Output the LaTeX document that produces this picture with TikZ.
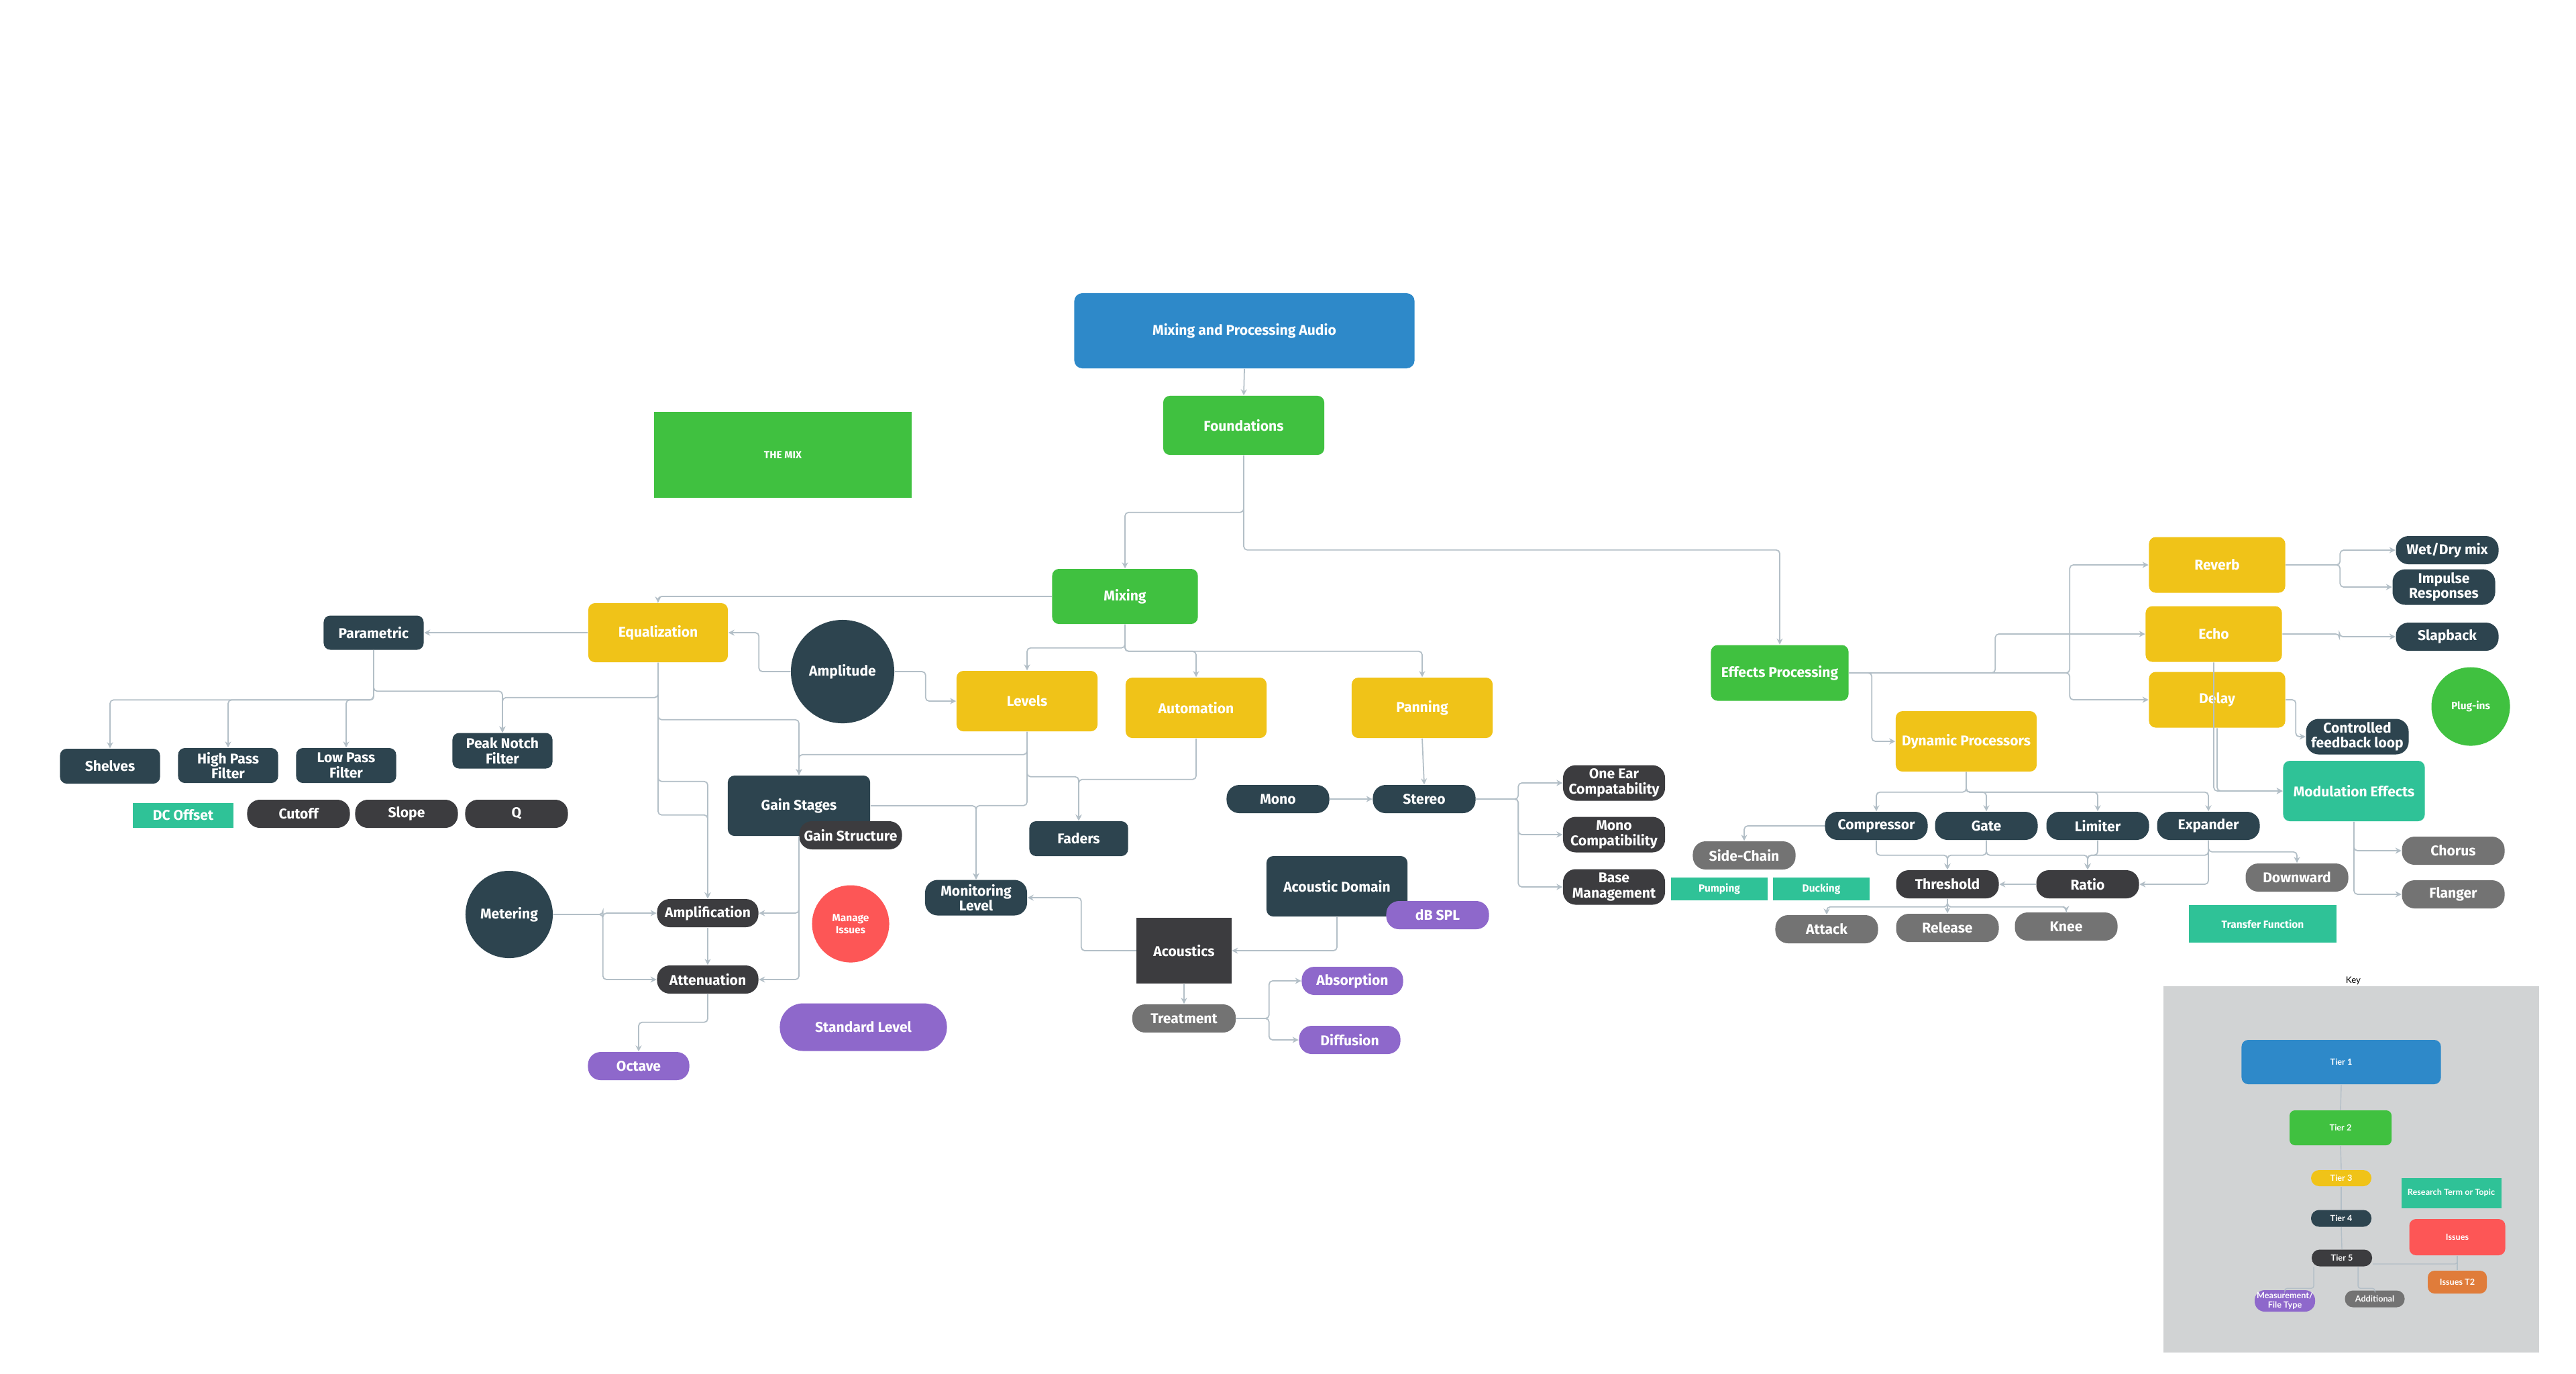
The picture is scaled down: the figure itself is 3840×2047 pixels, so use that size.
\documentclass[tikz,border=0pt]{standalone}
\usepackage{fontspec}
\setmainfont{Fira Sans}
\newfontfamily\keyfont{Lato}
\usepackage{xcolor}
\usetikzlibrary{arrows.meta,calc,positioning}
\definecolor{tierblue}{HTML}{2E89C9}
\definecolor{tiergreen}{HTML}{40C140}
\definecolor{tieryellow}{HTML}{F0C318}
\definecolor{tierslate}{HTML}{2D444F}
\definecolor{tierdark}{HTML}{3C3C3F}
\definecolor{tiergray}{HTML}{737373}
\definecolor{tierpurple}{HTML}{8E68CB}
\definecolor{tierteal}{HTML}{2FC297}
\definecolor{tierred}{HTML}{FD5656}
\definecolor{tierorange}{HTML}{E07C3A}
\definecolor{keygray}{HTML}{D1D3D4}
\definecolor{linkgray}{HTML}{B3BFC7}
\newcommand\mapfont{\fontsize{6}{6.4}\selectfont\bfseries}
\newcommand\smallmapfont{\fontsize{4.4}{5}\selectfont\bfseries}
\newcommand\keytext{\keyfont\fontsize{3.6}{4.1}\selectfont\bfseries}

\begin{document}
\begin{tikzpicture}[x=0.01cm,y=-0.01cm,
	mapnode/.style={rectangle,inner sep=0pt,text=white,font=\mapfont,align=center},
	tierone/.style={mapnode,fill=tierblue,rounded corners=1.2mm,minimum width=5.07cm,minimum height=1.12cm},
	tiertwo/.style={mapnode,fill=tiergreen,rounded corners=1mm,minimum width=2.05cm,minimum height=0.83cm},
	tierthree/.style={mapnode,fill=tieryellow,rounded corners=1mm,minimum width=2.1cm,minimum height=0.9cm},
	tierfour/.style={mapnode,fill=tierslate,rounded corners=1.9mm,minimum width=1.53cm,minimum height=0.42cm},
	tierfourbox/.style={mapnode,fill=tierslate,rounded corners=1mm,minimum width=1.49cm,minimum height=0.52cm},
	tierfive/.style={mapnode,fill=tierdark,rounded corners=1.9mm,minimum width=1.53cm,minimum height=0.42cm},
	extra/.style={tierfive,fill=tiergray},
	measurebox/.style={tierfive,fill=tierpurple},
	researchbox/.style={mapnode,fill=tierteal},
	topiccirc/.style={mapnode,circle,fill=tierslate},
	link/.style={draw=linkgray,line width=0.5pt,rounded corners=1.5pt,-{Stealth[length=0.9mm,width=0.9mm]}},
	keylink/.style={draw=linkgray,line width=0.4pt,rounded corners=1pt},
	keynode/.style={inner sep=0pt,text=white,font=\keytext,align=center}]
	\fill[white] (0,0) rectangle (3840,2047);
	\useasboundingbox (0,0) rectangle (3840,2047);

	\node[tierone] (mpa) at (1855,493) {Mixing and Processing Audio};
	\node[tiertwo,minimum width=2.4cm,minimum height=0.88cm] (found) at (1854,634) {Foundations};
	\node[tiertwo,minimum width=2.17cm,minimum height=0.82cm] (mixing) at (1677,889) {Mixing};
	\node[tiertwo] (effects) at (2653,1003) {Effects Processing};
	\node[mapnode,fill=tiergreen,font=\smallmapfont,minimum width=3.84cm,minimum height=1.27cm] (themix) at (1167,678) {THE MIX};

	\node[tierthree,minimum width=2.08cm,minimum height=0.88cm] (equal) at (981,943) {Equalization};
	\node[tierthree] (levels) at (1531,1045) {Levels};
	\node[tierthree] (autom) at (1783,1055) {Automation};
	\node[tierthree] (pan) at (2120,1055) {Panning};
	\node[tierthree,minimum width=2.03cm,minimum height=0.83cm] (reverb) at (3305,842) {Reverb};
	\node[tierthree,minimum width=2.03cm,minimum height=0.83cm] (echo) at (3300,945) {Echo};
	\node[tierthree,minimum width=2.03cm,minimum height=0.83cm] (delay) at (3305,1043) {Delay};
	\node[tierthree] (dynproc) at (2931,1105) {Dynamic Processors};

	\node[tierfourbox,minimum height=0.51cm] (param) at (557,943) {Parametric};
	\node[topiccirc,minimum size=1.54cm] (ampl) at (1256,1001) {Amplitude};
	\node[tierfourbox] (shelves) at (164,1142) {Shelves};
	\node[tierfourbox] (hpf) at (340,1141) {High Pass\\Filter};
	\node[tierfourbox] (lpf) at (516,1141) {Low Pass\\Filter};
	\node[tierfourbox,minimum height=0.53cm] (peak) at (749,1119) {Peak Notch\\Filter};
	\node[tierfourbox,minimum width=2.12cm,minimum height=0.9cm] (gainst) at (1191,1201) {Gain Stages};
	\node[tierfourbox,minimum width=1.47cm] (faders) at (1608,1250) {Faders};
	\node[tierfour,minimum width=1.52cm,minimum height=0.53cm] (monitor) at (1455,1338) {Monitoring\\Level};
	\node[topiccirc,minimum size=1.3cm] (meter) at (759,1363) {Metering};
	\node[tierfour] (mono) at (1905,1191) {Mono};
	\node[tierfour] (stereo) at (2123,1191) {Stereo};
	\node[tierfourbox,minimum width=2.1cm,minimum height=0.9cm] (acdom) at (1993,1321) {Acoustic Domain};
	\node[tierfour] (wetdry) at (3648,820) {Wet/Dry mix};
	\node[tierfour,minimum height=0.53cm] (impulse) at (3643,875) {Impulse\\Responses};
	\node[tierfour] (slap) at (3648,949) {Slapback};
	\node[tierfour,minimum height=0.53cm] (ctrlfb) at (3514,1098) {Controlled\\feedback loop};
	\node[tierfour] (comp) at (2797,1231) {Compressor};
	\node[tierfour] (gate) at (2961,1231) {Gate};
	\node[tierfour] (lim) at (3127,1231) {Limiter};
	\node[tierfour] (expand) at (3292,1231) {Expander};

	\node[tierfive] (cutoff) at (445,1213) {Cutoff};
	\node[tierfive] (slope) at (606,1213) {Slope};
	\node[tierfive] (qfac) at (770,1213) {Q};
	\node[tierfive] (gstruct) at (1268,1245) {Gain Structure};
	\node[tierfive,minimum width=1.51cm] (amplif) at (1055,1361) {Amplification};
	\node[tierfive,minimum width=1.51cm] (atten) at (1055,1460) {Attenuation};
	\node[mapnode,fill=tierdark,minimum width=1.41cm,minimum height=0.98cm] (acoust) at (1765,1417) {Acoustics};
	\node[tierfive,minimum width=1.52cm,minimum height=0.53cm] (oneear) at (2406,1167) {One Ear\\Compatability};
	\node[tierfive,minimum width=1.52cm,minimum height=0.53cm] (monocomp) at (2406,1244) {Mono\\Compatibility};
	\node[tierfive,minimum width=1.52cm,minimum height=0.53cm] (basemgmt) at (2406,1322) {Base\\Management};
	\node[tierfive] (thresh) at (2903,1318) {Threshold};
	\node[tierfive] (ratio) at (3112,1318) {Ratio};

	\node[extra,minimum width=1.54cm] (treat) at (1765,1518) {Treatment};
	\node[extra] (side) at (2600,1275) {Side-Chain};
	\node[extra] (attack) at (2723,1385) {Attack};
	\node[extra] (release) at (2903,1383) {Release};
	\node[extra] (knee) at (3080,1381) {Knee};
	\node[extra] (down) at (3424,1308) {Downward};
	\node[extra] (chorus) at (3657,1268) {Chorus};
	\node[extra] (flanger) at (3657,1333) {Flanger};

	\node[measurebox,minimum width=1.51cm] (octave) at (952,1589) {Octave};
	\node[measurebox,minimum width=2.49cm,minimum height=0.71cm,rounded corners=3.5mm] (stdlevel) at (1287,1531) {Standard Level};
	\node[measurebox] (dbspl) at (2143,1364) {dB SPL};
	\node[measurebox,minimum width=1.51cm] (absorb) at (2016,1462) {Absorption};
	\node[measurebox,minimum width=1.51cm] (diffus) at (2012,1550) {Diffusion};

	\node[researchbox,minimum width=1.5cm,minimum height=0.37cm] (dcoff) at (273,1215) {DC Offset};
	\node[researchbox,font=\smallmapfont,minimum width=1.44cm,minimum height=0.34cm] (pumping) at (2563,1325) {Pumping};
	\node[researchbox,font=\smallmapfont,minimum width=1.44cm,minimum height=0.34cm] (ducking) at (2715,1325) {Ducking};
	\node[researchbox,font=\smallmapfont,minimum width=2.2cm,minimum height=0.56cm] (transfer) at (3373,1377) {Transfer Function};
	\node[researchbox,rounded corners=1mm,minimum width=2.11cm,minimum height=0.9cm] (modfx) at (3509,1179) {Modulation Effects};

	\node[mapnode,circle,fill=tierred,font=\smallmapfont,minimum size=1.15cm] (manage) at (1268,1377) {Manage\\Issues};
	\node[mapnode,circle,fill=tiergreen,font=\smallmapfont,minimum size=1.17cm] (plugins) at (3683,1053) {Plug-ins};

	\draw[link] (mpa.south) -- (found.north);
	\draw[link] (found.south) -- ++(0,85) -| (mixing.north);
	\draw[link] (found.south) -- ++(0,141) -| (effects.north);
	\draw[link] (mixing.west) -| (equal.north);
	\draw[link] (mixing.south) -- ++(0,35) -| (levels.north);
	\draw[link] (mixing.south) -- ++(0,40) -| (autom.north);
	\draw[link] (mixing.south) -- ++(0,40) -| (pan.north);
	\draw[link] (equal.west) -- (param.east);
	\draw[link] (ampl.west) -- ++(-47,0) |- (equal.east);
	\draw[link] (ampl.east) -- ++(46,0) |- (levels.west);
	\draw[link] (param.south) -- ++(0,74) -| (shelves.north);
	\draw[link] (param.south) -- ++(0,74) -| (hpf.north);
	\draw[link] (param.south) -- ++(0,74) -| (lpf.north);
	\draw[link] (param.south) -- ++(0,61) -| (peak.north);
	\draw[link] (equal.south) -- ++(0,52) -| (peak.north);
	\draw[link] (equal.south) -- ++(0,85) -| (gainst.north);
	\draw[link] (levels.south) -- ++(0,34) -| (gainst.north);
	\draw[link] (equal.south) -- ++(0,177) -| (amplif.north);
	\draw[link] (equal.south) -- ++(0,227) -| (amplif.north);
	\draw[link] (levels.south) -- ++(0,67) -| (faders.north);
	\draw[link] (autom.south) -- ++(0,61) -| (faders.north);
	\draw[link] (levels.south) -- ++(0,110) -| (monitor.north);
	\draw[link] (gainst.east) -| (monitor.north);
	\draw[link] (gainst.south) |- (amplif.east);
	\draw[link] (gainst.south) |- (atten.east);
	\draw[link] (meter.east) -- ++(74,0) |- (amplif.west);
	\draw[link] (meter.east) -- ++(74,0) |- (atten.west);
	\draw[link] (amplif.south) -- (atten.north);
	\draw[link] (atten.south) -- ++(0,42) -| (octave.north);
	\draw[link] (acoust.west) -- ++(-82,0) |- (monitor.east);
	\draw[link] (acdom.south) |- (acoust.east);
	\draw[link] (acoust.south) -- (treat.north);
	\draw[link] (treat.east) -- ++(49,0) |- (absorb.west);
	\draw[link] (treat.east) -- ++(49,0) |- (diffus.west);
	\draw[link] (pan.south) -- (stereo.north);
	\draw[link] (mono.east) -- (stereo.west);
	\draw[link] (stereo.east) -- ++(63,0) |- (oneear.west);
	\draw[link] (stereo.east) -- ++(63,0) |- (monocomp.west);
	\draw[link] (stereo.east) -- ++(63,0) |- (basemgmt.west);
	\draw[link] (effects.east) -- ++(329,0) |- (reverb.west);
	\draw[link] (effects.east) -- ++(218,0) |- (echo.west);
	\draw[link] (effects.east) -- ++(329,0) |- (delay.west);
	\draw[link] (effects.east) -- ++(34,0) |- (dynproc.west);
	\draw[link] (reverb.east) -- ++(81,0) |- (wetdry.west);
	\draw[link] (reverb.east) -- ++(81,0) |- (impulse.west);
	\draw[link] (echo.east) -- ++(85,0) |- (slap.west);
	\draw[link] (delay.east) -- ++(15,0) |- (ctrlfb.west);
	\draw[link] (echo.south) |- (modfx.west);
	\draw[link] (delay.south) |- (modfx.west);
	\draw[link] (modfx.south) |- (chorus.west);
	\draw[link] (modfx.south) |- (flanger.west);
	\draw[link] (dynproc.south) -- ++(0,30) -| (comp.north);
	\draw[link] (dynproc.south) -- ++(0,30) -| (gate.north);
	\draw[link] (dynproc.south) -- ++(0,30) -| (lim.north);
	\draw[link] (dynproc.south) -- ++(0,30) -| (expand.north);
	\draw[link] (comp.west) -| (side.north);
	\draw[link] (comp.south) -- ++(0,22) -| (thresh.north);
	\draw[link] (gate.south) -- ++(0,22) -| (thresh.north);
	\draw[link] (gate.south) -- ++(0,22) -| (ratio.north);
	\draw[link] (lim.south) -- ++(0,22) -| (ratio.north);
	\draw[link] (expand.south) -- ++(0,22) -| (ratio.north);
	\draw[link] (expand.south) |- (ratio.east);
	\draw[link] (expand.south) -- ++(0,17) -| (down.north);
	\draw[link] (ratio.west) -- (thresh.east);
	\draw[link] (thresh.south) -- ++(0,12) -| (attack.north);
	\draw[link] (thresh.south) -- (release.north);
	\draw[link] (thresh.south) -- ++(0,12) -| (knee.north);

	\fill[keygray] (3225,1470) rectangle (3785,2016);
	\node[font=\keyfont\fontsize{3.8}{4}\selectfont,text=black,inner sep=0pt] (keylabel) at (3508,1462) {Key};
	\node[keynode,fill=tierblue,rounded corners=1mm,minimum width=2.97cm,minimum height=0.66cm] (kone) at (3490,1583) {Tier 1};
	\node[keynode,fill=tiergreen,rounded corners=0.8mm,minimum width=1.52cm,minimum height=0.52cm] (ktwo) at (3489,1681) {Tier 2};
	\node[keynode,fill=tieryellow,rounded corners=1.2mm,minimum width=0.9cm,minimum height=0.24cm] (kthree) at (3490,1756) {Tier 3};
	\node[keynode,fill=tierslate,rounded corners=1.2mm,minimum width=0.9cm,minimum height=0.25cm] (kfour) at (3490,1816) {Tier 4};
	\node[keynode,fill=tierdark,rounded corners=1.2mm,minimum width=0.9cm,minimum height=0.25cm] (kfive) at (3491,1875) {Tier 5};
	\node[keynode,fill=tierteal,minimum width=1.49cm,minimum height=0.45cm] (kresearch) at (3654,1778) {Research Term or Topic};
	\node[keynode,fill=tierred,rounded corners=1mm,minimum width=1.43cm,minimum height=0.54cm] (kissues) at (3663,1844) {Issues};
	\node[keynode,fill=tierorange,rounded corners=1mm,minimum width=0.88cm,minimum height=0.34cm] (kissuestwo) at (3663,1911) {Issues T2};
	\node[keynode,fill=tierpurple,rounded corners=1.5mm,minimum width=0.9cm,minimum height=0.32cm] (kmeasure) at (3406,1939) {Measurement/\\File Type};
	\node[keynode,fill=tiergray,rounded corners=1.2mm,minimum width=0.89cm,minimum height=0.25cm] (kadd) at (3540,1936) {Additional};
	\draw[keylink] (kone.south) -- (ktwo.north);
	\draw[keylink] (ktwo.south) -- (kthree.north);
	\draw[keylink] (kthree.south) -- (kfour.north);
	\draw[keylink] (kfour.south) -- (kfive.north);
	\draw[keylink] ($(kfive.south)+(-42,0)$) -- ++(0,32) -| (kmeasure.north);
	\draw[keylink] ($(kfive.south)+(24,0)$) -- ++(0,32) -| (kadd.north);
	\draw[keylink] ($(kfive.east)+(0,9)$) -| (kissues.south);
	\draw[keylink] (kissues.south) -- (kissuestwo.north);
\end{tikzpicture}
\end{document}
